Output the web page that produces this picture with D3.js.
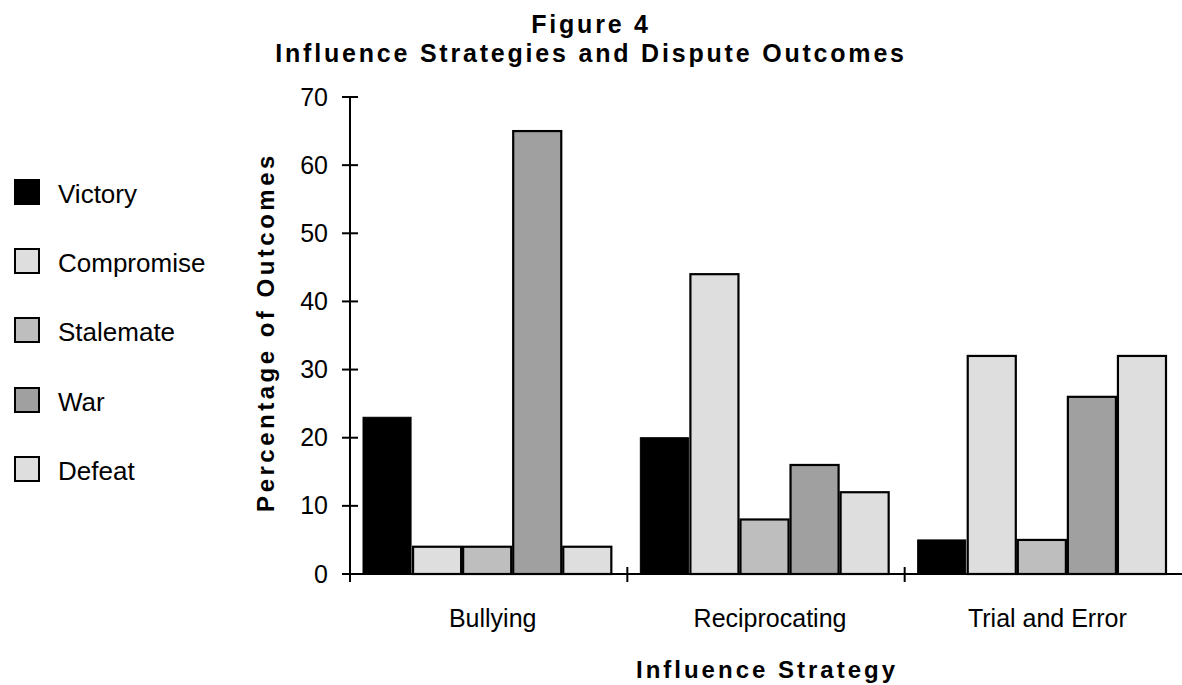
<!DOCTYPE html>
<html><head><meta charset="utf-8">
<script src="https://cdn.jsdelivr.net/npm/d3@7"></script>
<style>body{margin:0;background:#fff}svg{display:block}text{font-family:"Liberation Sans",Arial,sans-serif}</style>
</head><body><svg id="c" width="1182" height="685"></svg>
<script>
const categories = ["Bullying", "Reciprocating", "Trial and Error"];
const seriesNames = ["Victory", "Compromise", "Stalemate", "War", "Defeat"];
const victory    = [23, 20, 5];
const compromise = [4, 44, 32];
const stalemate  = [4, 8, 5];
const war        = [65, 16, 26];
const defeat     = [4, 12, 32];
const yTicks = [0, 10, 20, 30, 40, 50, 60, 70];
const colors = ["#000000", "#dedede", "#bebebe", "#a0a0a0", "#dedede"];

const seriesValues = [victory, compromise, stalemate, war, defeat];
const svg = d3.select("#c");
const FF = '"Liberation Sans",Arial,sans-serif';
const x0 = 350, x1 = 1182, yBottom = 574, yTop = 97;

const x = d3.scaleBand().domain(categories).range([x0, x1]).padding(0);
const xi = d3.scaleBand().domain(seriesNames).range([12, x.bandwidth() - 15]).padding(0);
const y = d3.scaleLinear().domain([0, 70]).range([yBottom, yTop]);

// bars
categories.forEach((c, ci) => {
  const g = svg.append("g").attr("transform", `translate(${x(c)},0)`);
  g.selectAll("rect").data(seriesNames.map((s, si) => ({s, si, v: seriesValues[si][ci]})))
    .join("rect")
    .attr("x", d => xi(d.s) + 1)
    .attr("y", d => y(d.v))
    .attr("width", xi.bandwidth() - 2)
    .attr("height", d => y(0) - y(d.v))
    .attr("fill", d => colors[d.si])
    .attr("stroke", "#000")
    .attr("stroke-width", d => d.si === 0 ? 1 : 2.2);
});

// y axis
const yAxis = d3.axisLeft(y).tickValues(yTicks).tickSize(0).tickPadding(22);
const ya = svg.append("g").attr("transform", `translate(${x0},0)`).call(yAxis);
ya.select(".domain").remove();
ya.selectAll("text").attr("font-size", 25).attr("fill", "#000").style("font-family", FF);
svg.append("line").attr("x1", x0).attr("x2", x0).attr("y1", yTop - 1).attr("y2", yBottom + 8).attr("stroke", "#000").attr("stroke-width", 2);
svg.selectAll(".yt").data(yTicks).join("line").attr("class", "yt")
  .attr("x1", x0 - 8).attr("x2", x0 + 8).attr("y1", d => y(d)).attr("y2", d => y(d))
  .attr("stroke", "#000").attr("stroke-width", 2);

// x axis
svg.append("line").attr("x1", x0 - 8).attr("x2", x1).attr("y1", yBottom).attr("y2", yBottom).attr("stroke", "#000").attr("stroke-width", 2);
const xTickPos = categories.map(c => x(c)).slice(1);
svg.selectAll(".xt").data(xTickPos).join("line").attr("class", "xt")
  .attr("x1", d => d).attr("x2", d => d).attr("y1", yBottom - 7).attr("y2", yBottom + 8)
  .attr("stroke", "#000").attr("stroke-width", 2);
const xAxis = d3.axisBottom(x).tickSize(0).tickPadding(0);
const xa = svg.append("g").attr("transform", `translate(4,${yBottom})`).call(xAxis);
xa.select(".domain").remove();
xa.selectAll("text").attr("dy", null).attr("y", 53).attr("font-size", 25).attr("fill", "#000").style("font-family", FF);

// titles
svg.append("text").attr("x", 591).attr("y", 33).attr("text-anchor", "middle")
  .attr("font-size", 25).attr("font-weight", "bold").attr("letter-spacing", 2.8).text("Figure 4");
svg.append("text").attr("x", 591).attr("y", 62).attr("text-anchor", "middle")
  .attr("font-size", 25).attr("font-weight", "bold").attr("letter-spacing", 2.8).text("Influence Strategies and Dispute Outcomes");
svg.append("text").attr("x", 767).attr("y", 678).attr("text-anchor", "middle")
  .attr("font-size", 24).attr("font-weight", "bold").attr("letter-spacing", 3).text("Influence Strategy");
svg.append("text").attr("transform", "translate(274,332) rotate(-90)").attr("text-anchor", "middle")
  .attr("font-size", 24).attr("font-weight", "bold").attr("letter-spacing", 3.5).text("Percentage of Outcomes");

// legend
const legY = [192, 261, 330, 400, 469];
const leg = svg.selectAll(".leg").data(seriesNames).join("g").attr("class", "leg")
  .attr("transform", (d, i) => `translate(0,${legY[i]})`);
leg.append("rect").attr("x", 15).attr("y", -12).attr("width", 24).attr("height", 24)
  .attr("fill", (d, i) => colors[i]).attr("stroke", "#000").attr("stroke-width", 2);
leg.append("text").attr("x", 58).attr("y", 11).attr("font-size", 26).text(d => d);
</script></body></html>
